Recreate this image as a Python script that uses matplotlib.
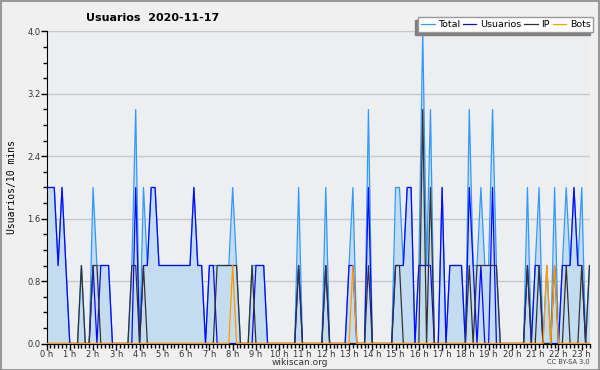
import numpy as np
import matplotlib
matplotlib.use('Agg')
import matplotlib.pyplot as plt
from matplotlib.patches import Rectangle

# 10-minute samples, 0:00 .. 23:20
total = [2, 2, 2, 1, 2, 1, 0, 0, 0, 1, 0, 0, 2, 1, 1, 1, 1, 0, 0, 0,
         0, 0, 1, 3, 0, 2, 1, 2, 2, 1, 1, 1, 1, 1, 1, 1, 1, 1, 2, 1,
         1, 0, 1, 1, 1, 1, 1, 1, 2, 1, 0, 0, 0, 1, 1, 1, 1, 0, 0, 0,
         0, 0, 0, 0, 0, 2, 0, 0, 0, 0, 0, 0, 2, 0, 0, 0, 0, 0, 1, 2,
         0, 0, 0, 3, 0, 0, 0, 0, 0, 0, 2, 2, 1, 2, 2, 0, 1, 4, 1, 3,
         0, 0, 2, 0, 1, 1, 1, 1, 0, 3, 1, 1, 2, 1, 1, 3, 1, 0, 0, 0,
         0, 0, 0, 0, 2, 0, 1, 2, 0, 1, 0, 2, 0, 1, 2, 1, 2, 1, 2, 0,
         1]
usuarios = [2, 2, 2, 1, 2, 1, 0, 0, 0, 0, 0, 0, 1, 0, 1, 1, 1, 0, 0, 0,
            0, 0, 0, 2, 0, 1, 1, 2, 2, 1, 1, 1, 1, 1, 1, 1, 1, 1, 2, 1,
            1, 0, 1, 1, 0, 0, 0, 0, 0, 0, 0, 0, 0, 0, 1, 1, 1, 0, 0, 0,
            0, 0, 0, 0, 0, 1, 0, 0, 0, 0, 0, 0, 1, 0, 0, 0, 0, 0, 1, 1,
            0, 0, 0, 2, 0, 0, 0, 0, 0, 0, 1, 1, 1, 2, 2, 0, 1, 1, 1, 1,
            0, 0, 2, 0, 1, 1, 1, 1, 0, 2, 1, 0, 1, 0, 0, 2, 0, 0, 0, 0,
            0, 0, 0, 0, 1, 0, 1, 1, 0, 0, 0, 0, 0, 1, 1, 1, 2, 1, 1, 0,
            0]
ip = [0, 0, 0, 0, 0, 0, 0, 0, 0, 1, 0, 0, 1, 1, 0, 0, 0, 0, 0, 0,
      0, 0, 1, 1, 0, 1, 0, 0, 0, 0, 0, 0, 0, 0, 0, 0, 0, 0, 0, 0,
      0, 0, 0, 0, 1, 1, 1, 1, 1, 1, 0, 0, 0, 1, 0, 0, 0, 0, 0, 0,
      0, 0, 0, 0, 0, 1, 0, 0, 0, 0, 0, 0, 1, 0, 0, 0, 0, 0, 0, 0,
      0, 0, 0, 1, 0, 0, 0, 0, 0, 0, 1, 1, 0, 0, 0, 0, 0, 3, 0, 2,
      0, 0, 0, 0, 0, 0, 0, 0, 0, 1, 0, 1, 1, 1, 1, 1, 1, 0, 0, 0,
      0, 0, 0, 0, 1, 0, 0, 1, 0, 0, 0, 1, 0, 0, 1, 0, 0, 0, 1, 0,
      1]
bots = [0] * 141
for k in (48, 79, 129, 131):
    bots[k] = 1

hour_labels = ['%d h' % h for h in range(24)]
legend_labels = ['Total', 'Usuarios', 'IP', 'Bots']

x = np.arange(len(total))

fig = plt.figure(figsize=(6, 3.7), dpi=100, facecolor='#f0f0f0')
ax = fig.add_axes([0.0775, 0.0716, 0.905, 0.8433])
ax.set_facecolor('#edeef0')

ax.fill_between(x, 0, total, color='#c4dcf0', lw=0, zorder=1)
l1, = ax.plot(x, total, color='#3399ff', lw=0.9, zorder=2)
l2, = ax.plot(x, usuarios, color='#0a0aff', lw=0.9, zorder=3)
l3, = ax.plot(x, ip, color='#333333', lw=0.9, zorder=4)
l4, = ax.plot(x, bots, color='#ff9900', lw=0.9, zorder=5)

ax.set_xlim(0, len(total) - 1)
ax.set_ylim(0, 4.0)
ax.set_yticks(np.arange(0, 4.01, 0.8))
ax.set_yticklabels(['%.1f' % v for v in np.arange(0, 4.01, 0.8)])
ax.set_yticks(np.arange(0, 4.01, 0.2), minor=True)
ax.set_xticks(np.arange(0, 24) * 6)
ax.set_xticklabels(hour_labels)
ax.set_xticks(x, minor=True)
ax.yaxis.grid(True, color='#c8c8c8', lw=1)
ax.set_axisbelow(True)
for s in ('top', 'right'):
    ax.spines[s].set_visible(False)
ax.tick_params(axis='both', which='major', labelsize=6, length=4,
               width=1, colors='black', labelcolor='#333333', pad=0.5)
ax.tick_params(axis='both', which='minor', length=3, width=1)

ax.set_ylabel('Usuarios/10 mins', family='DejaVu Sans Mono', fontsize=7,
              labelpad=7)

fig.text(0.255, 0.951, 'Usuarios  2020-11-17', fontsize=8,
         fontweight='bold', ha='center', va='center')
fig.text(0.5, 0.021, 'wikiscan.org', fontsize=6.5, color='#333333',
         ha='center', va='center')
fig.text(0.983, 0.021, 'CC BY-SA 3.0', fontsize=4.8, color='#444444',
         ha='right', va='center')

leg_kw = dict(loc='upper right', ncol=4, fontsize=6.8, frameon=True,
              fancybox=False, shadow=False, handlelength=1.4,
              handletextpad=0.4, columnspacing=0.3, borderpad=0.3,
              borderaxespad=0, framealpha=1)

# grey copy shifted down-left acts as the shadow (only its frame shows)
shadow = fig.legend([l1, l2, l3, l4], legend_labels,
                    bbox_to_anchor=(0.989 - 0.005, 0.953 - 0.008), **leg_kw)
shadow.get_frame().set_facecolor('#808080')
shadow.get_frame().set_edgecolor('#808080')
for t in shadow.get_texts():
    t.set_visible(False)
for h in shadow.legend_handles:
    h.set_visible(False)

leg = fig.legend([l1, l2, l3, l4], legend_labels,
                 bbox_to_anchor=(0.989, 0.953), **leg_kw)
leg.get_frame().set_edgecolor('#999999')
leg.get_frame().set_facecolor('white')

fig.patches.append(Rectangle((0.001, 0.001), 0.997, 0.996,
                             transform=fig.transFigure, fill=False,
                             edgecolor='#999999', lw=1.5))

fig.savefig('out.png', dpi=100, facecolor=fig.get_facecolor())
